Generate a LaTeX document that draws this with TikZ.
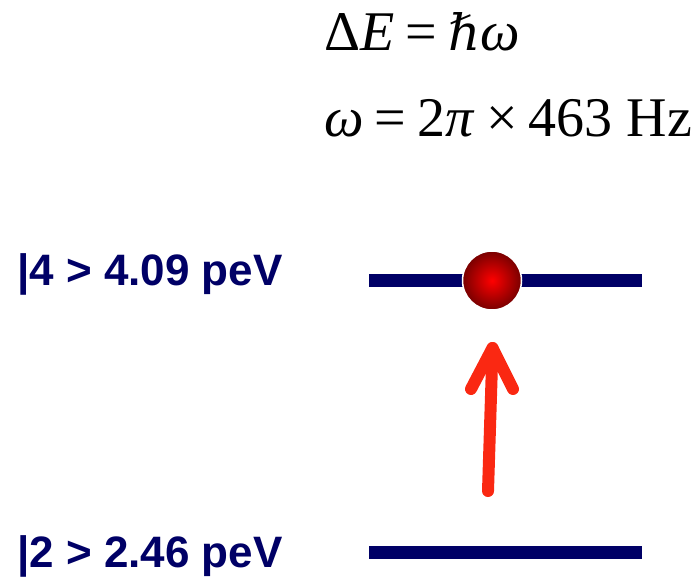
\documentclass[tikz,border=0pt]{standalone}
\usepackage{fontspec}
\setmainfont{Liberation Serif}
\newfontfamily\arialb{Liberation Sans}[BoldFont={* Bold}]
\newfontfamily\dvserif{DejaVu Serif}
\definecolor{navy}{RGB}{0,0,102}
\definecolor{arrowred}{RGB}{250,40,18}
\definecolor{balldark}{RGB}{120,0,0}
\newcommand{\eqgap}{\hspace{0.2em}}
\tikzset{
  level/.style={draw=navy, line width=12.5pt},
  statelabel/.style={anchor=base west, inner sep=0pt, text=navy, font=\arialb\bfseries\fontsize{44}{44}\selectfont},
  eqn/.style={anchor=base west, inner sep=0pt, font=\fontsize{56}{56}\selectfont},
  excite/.style={draw=arrowred, line width=12pt, line cap=round, line join=round},
}
\begin{document}
\begin{tikzpicture}[x=1pt,y=-1pt]
\useasboundingbox (0,0) rectangle (695,578);
% equations
\node[eqn] (eq1) at (324,50) {Δ\textit{E}\eqgap=\eqgap{\dvserif\itshape\fontsize{50}{50}\selectfont ℏ}\textit{ω}};
\node[eqn] (eq2) at (324,136) {\textit{ω}\eqgap=\eqgap2\textit{π}\eqgap×\eqgap463 Hz};
% levels
\coordinate (l4a) at (369,280.5);
\coordinate (l4b) at (642,280.5);
\coordinate (l2a) at (369,552.5);
\coordinate (l2b) at (642,552.5);
\draw[level] (l4a) -- (l4b);
\draw[level] (l2a) -- (l2b);
\node[statelabel] (s4) at (17,285) {|4 > 4.09 peV};
\node[statelabel] (s2) at (17,567) {|2 > 2.46 peV};
% ball
\node[circle, minimum size=59pt, inner sep=0pt, draw=white, line width=1.5pt,
      inner color=red, outer color=balldark] (ball) at (492,280.5) {};
% arrow
\coordinate (tail) at (488,491);
\coordinate (tip) at (492.5,348);
\coordinate (bl) at (471,389);
\coordinate (br) at (513,389);
\draw[excite] (tail) -- (tip);
\draw[excite] (bl) -- (tip) -- (br);
\end{tikzpicture}
\end{document}
